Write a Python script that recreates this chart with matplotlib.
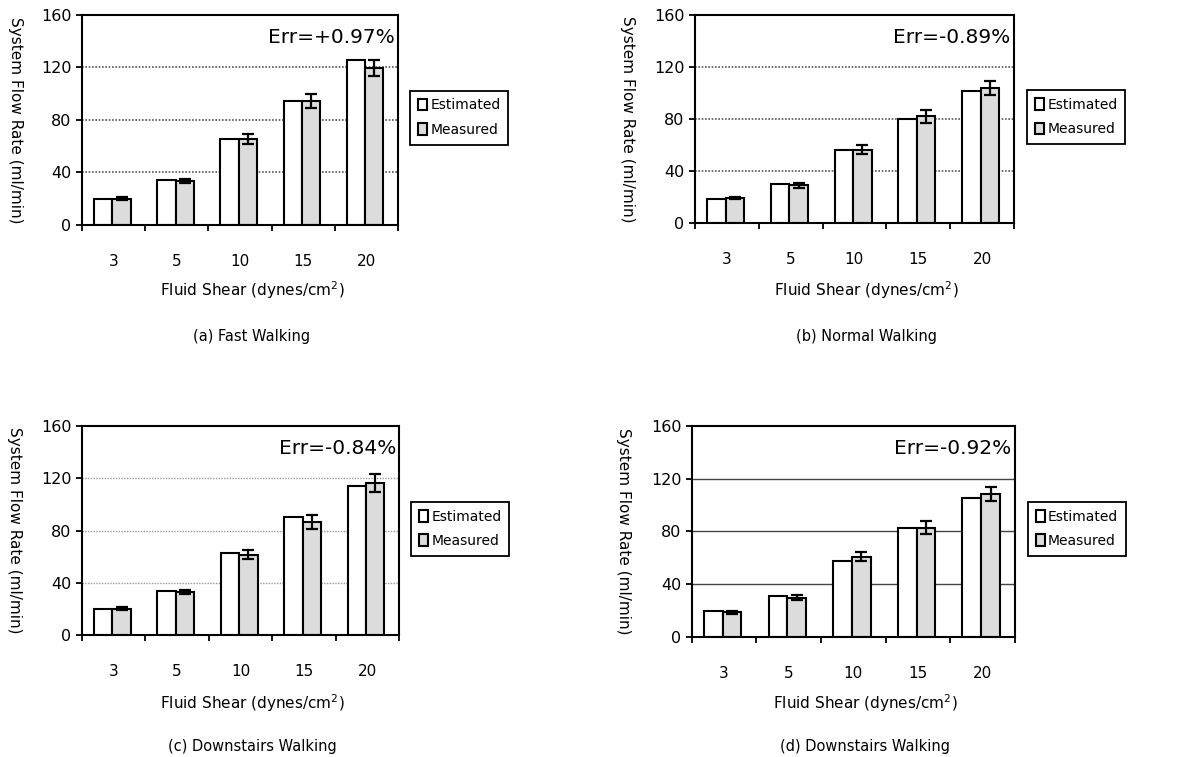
import matplotlib
matplotlib.use("Agg")
import matplotlib.pyplot as plt
import numpy as np

plt.rcParams["font.family"] = ["DejaVu Sans"]

shear = ["3", "5", "10", "15", "20"]

est_a = [19.5, 34, 65.5, 94.5, 126]
meas_a = [20, 33.5, 65.5, 94.5, 119.5]
err_a = [1.0, 1.5, 3.5, 5.5, 6.3]

est_b = [18.3, 30, 56.2, 80.1, 101.7]
meas_b = [19, 28.8, 56.2, 81.9, 104]
err_b = [1.0, 2.0, 3.6, 4.9, 5.4]

est_c = [19.9, 34.2, 62.7, 90.2, 114.2]
meas_c = [20.4, 33.1, 61.7, 86.4, 116.5]
err_c = [1.0, 1.5, 3.2, 5.2, 6.9]

est_d = [19.5, 30.9, 57.2, 82.8, 105.5]
meas_d = [18.5, 29.6, 60.8, 82.8, 108.6]
err_d = [1.0, 1.8, 3.2, 4.8, 5.4]

err_texts = ["Err=+0.97%", "Err=-0.89%", "Err=-0.84%", "Err=-0.92%"]
subtitles = ["(a) Fast Walking", "(b) Normal Walking",
             "(c) Downstairs Walking", "(d) Downstairs Walking"]

fig = plt.figure(figsize=(11.92, 7.57), dpi=100)

# axes rectangles in figure fraction [left, bottom, width, height]
rects = [
    [0.0688, 0.7028, 0.2651, 0.2774],
    [0.5830, 0.7058, 0.2676, 0.2743],
    [0.0688, 0.1608, 0.2660, 0.2765],
    [0.5803, 0.1589, 0.2710, 0.2783],
]
legend_anchor = [(0.344, 0.880), (0.8616, 0.881), (0.3448, 0.3369), (0.8624, 0.3369)]
xlabel_y = [0.617, 0.617, 0.0713, 0.0713]
sub_y = [0.555, 0.555, 0.0135, 0.0145]
grid_styles = [
    dict(color="#555555", linestyle=(0, (1, 1)), linewidth=1.2),
    dict(color="#555555", linestyle=(0, (1, 1)), linewidth=1.2),
    dict(color="#999999", linestyle=(0, (1, 1)), linewidth=1.0),
    dict(color="#444444", linestyle="-", linewidth=1.0),
]

datasets = [(est_a, meas_a, err_a), (est_b, meas_b, err_b),
            (est_c, meas_c, err_c), (est_d, meas_d, err_d)]

x = np.arange(len(shear))
w = 0.29

for i, (est, meas, err) in enumerate(datasets):
    ax = fig.add_axes(rects[i])
    ax.set_axisbelow(True)
    for yv in [40, 80, 120]:
        ax.axhline(yv, zorder=0, **grid_styles[i])
    b1 = ax.bar(x - w / 2 - 0.02, est, w, color="white", edgecolor="black",
                linewidth=1.5, label="Estimated", zorder=2)
    b2 = ax.bar(x + w / 2 - 0.02, meas, w, color="#dcdcdc", edgecolor="black",
                linewidth=1.5, label="Measured", zorder=2)
    ax.errorbar(x + w / 2 - 0.02, meas, yerr=err, fmt="none", ecolor="black",
                elinewidth=1.6, capsize=4, capthick=1.6, zorder=3)
    ax.set_xlim(-0.5, len(shear) - 0.5)
    ax.set_ylim(0, 160)
    ax.set_yticks([0, 40, 80, 120, 160])
    ax.set_xticks(np.arange(-0.5, len(shear), 1.0))
    ax.set_xticklabels([])
    ax.set_xticks(x, minor=True)
    ax.set_xticklabels(shear, minor=True)
    ax.tick_params(axis="x", which="major", direction="out", length=4, width=1.3)
    ax.tick_params(axis="x", which="minor", length=0, pad=21, labelsize=11)
    ax.tick_params(axis="y", direction="out", length=4, width=1.3, labelsize=11.5)
    for s in ax.spines.values():
        s.set_linewidth(1.5)
        s.set_color("black")
    ax.set_ylabel("System Flow Rate (ml/min)", rotation=270, fontsize=11,
                  va="bottom")
    ax.yaxis.set_label_coords(-0.235, 0.5)
    ax.text(0.99, 0.94, err_texts[i], transform=ax.transAxes, ha="right",
            va="top", fontsize=14.5)
    cx = rects[i][0] + rects[i][2] / 2 + 0.01
    fig.text(cx, xlabel_y[i], "Fluid Shear (dynes/cm$^2$)", ha="center",
             va="center", fontsize=11)
    fig.text(cx, sub_y[i], subtitles[i], ha="center", va="center",
             fontsize=10.5)
    fig.legend(handles=[b1, b2], loc="upper left", bbox_to_anchor=legend_anchor[i],
               frameon=True, fancybox=False, edgecolor="black", fontsize=10,
               handlelength=0.7, handleheight=0.9, handletextpad=0.2,
               borderpad=0.55, labelspacing=0.75, borderaxespad=0,
               framealpha=1).get_frame().set_linewidth(1.3)

fig.savefig("out.png", dpi=100, facecolor="white")
